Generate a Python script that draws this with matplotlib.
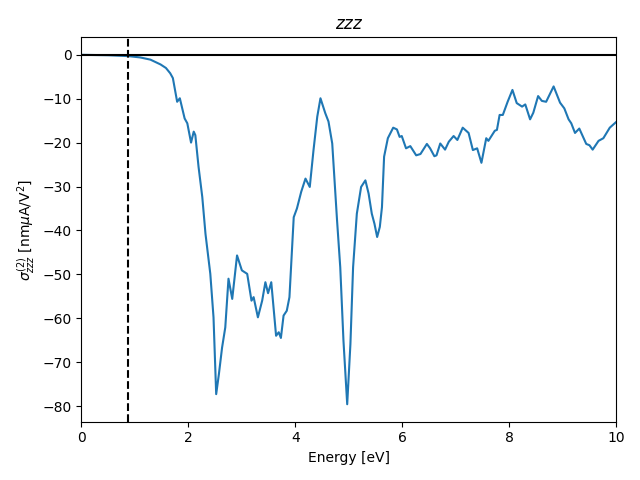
import numpy as np
import matplotlib
matplotlib.use('Agg')
import matplotlib.pyplot as plt

# Energy grid (eV) and sigma_zzz values
energy = [0.0, 0.5, 0.88, 1.1, 1.29, 1.48, 1.58, 1.66, 1.71, 1.79, 1.84, 1.93, 1.98, 2.05, 2.10, 2.13,
          2.19, 2.26, 2.32, 2.41, 2.47, 2.52, 2.57, 2.63, 2.69, 2.75, 2.82, 2.91, 3.00, 3.10,
          3.18, 3.22, 3.30, 3.38, 3.44, 3.49, 3.55, 3.64, 3.69, 3.73, 3.78, 3.84, 3.89, 3.97,
          4.03, 4.11, 4.19, 4.27, 4.34, 4.41, 4.47, 4.56, 4.62, 4.69, 4.78, 4.84, 4.90, 4.97,
          5.03, 5.08, 5.15, 5.23, 5.31, 5.37, 5.43, 5.48, 5.53, 5.58, 5.62, 5.66, 5.73, 5.83,
          5.90, 5.95, 5.99, 6.07, 6.15, 6.26, 6.34, 6.46, 6.52, 6.60, 6.64, 6.71, 6.80, 6.87,
          6.96, 7.03, 7.13, 7.24, 7.32, 7.40, 7.48, 7.57, 7.61, 7.73, 7.77, 7.82, 7.88, 7.97,
          8.06, 8.14, 8.24, 8.30, 8.39, 8.45, 8.54, 8.61, 8.69, 8.83, 8.95, 9.03, 9.11, 9.16,
          9.23, 9.31, 9.44, 9.50, 9.56, 9.67, 9.76, 9.88, 10.0]
sigma = [0.0, -0.1, -0.3, -0.6, -1.1, -2.2, -3.0, -4.2, -5.3, -10.7, -9.9, -14.5, -15.6, -20.0, -17.5, -18.3,
         -25.5, -32.4, -40.8, -49.9, -59.8, -77.3, -72.8, -66.7, -62.1, -51.0, -55.6, -45.7, -49.1, -49.9,
         -56.0, -55.2, -59.8, -56.0, -51.8, -54.3, -51.8, -64.0, -63.2, -64.5, -59.4, -58.3, -55.2, -37.0,
         -35.0, -31.2, -28.2, -30.1, -21.7, -14.1, -9.9, -13.3, -15.2, -20.2, -37.7, -48.4, -65.1, -79.6,
         -65.9, -48.4, -36.2, -30.1, -28.6, -31.6, -36.2, -38.5, -41.5, -39.2, -34.7, -23.2, -19.0, -16.6,
         -17.0, -18.7, -18.5, -21.3, -20.8, -22.9, -22.6, -20.3, -21.3, -23.1, -22.9, -20.2, -21.6, -19.8,
         -18.5, -19.4, -16.6, -17.8, -21.7, -21.3, -24.6, -19.0, -19.6, -17.3, -17.1, -13.7, -13.7, -10.7,
         -8.0, -11.0, -11.8, -11.3, -14.7, -13.2, -9.4, -10.5, -10.7, -7.2, -10.9, -12.2, -14.7, -15.6,
         -17.8, -16.8, -20.3, -20.6, -21.6, -19.6, -19.0, -16.6, -15.3]

band_gap = 0.88

fig, ax = plt.subplots(figsize=(6.4, 4.8), dpi=100)
ax.plot(energy, sigma)
ax.axhline(0, color='black')
ax.axvline(band_gap, color='black', linestyle='--')
ax.set_xlim(0, 10)
ax.set_xlabel('Energy [eV]')
ax.set_ylabel(r'$\sigma^{(2)}_{zzz}$ [nm$\mu$A/V$^2$]')
ax.set_title('$zzz$')
plt.tight_layout()
plt.savefig('out.png')
